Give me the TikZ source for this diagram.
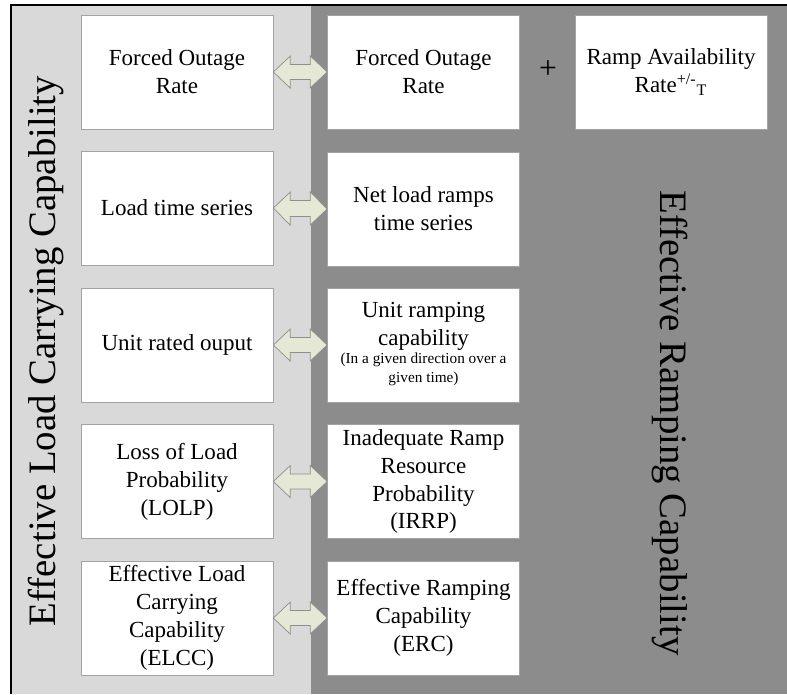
\documentclass[tikz,border=0pt]{standalone}
\usepackage{fontspec}
\setmainfont{Liberation Serif}
\usepackage{xcolor}
\usepackage{tikz}

\definecolor{lightpanel}{HTML}{D9D9D9}
\definecolor{darkpanel}{HTML}{8C8C8C}
\definecolor{boxline}{HTML}{A3A3A3}
\definecolor{arrowfill}{HTML}{E4E8D5}
\definecolor{arrowline}{HTML}{8E8E8E}

\begin{document}
\begin{tikzpicture}[x=0.02cm, y=-0.02cm,
  card/.style={draw=boxline, fill=white, minimum width=3.84cm, minimum height=2.28cm,
    align=center, inner sep=2pt, font=\fontsize{13.1}{15.9}\selectfont},
  twinarrow/.style={draw=arrowline, fill=arrowfill, line join=miter},
  sidetitle/.style={font=\fontsize{22.1}{26}\selectfont}]
  \useasboundingbox (0,0) rectangle (787,694);
  \fill[white] (0,0) rectangle (787,694);
  % the two panels
  \fill[lightpanel] (11,5) rectangle (311,694);
  \fill[darkpanel] (311,5) rectangle (787,694);
  \draw[line width=1.15pt] (11,694) -- (11,5) -- (787,5);
  \node[sidetitle, rotate=90] (elcc) at (46,351) {Effective Load Carrying Capability};
  \node[sidetitle, rotate=-90] (erc) at (670,423) {Effective Ramping Capability};
  % left column
  \node[card] (l1) at (177,72) {Forced Outage\\Rate};
  \node[card] (l2) at (177,208) {Load time series};
  \node[card] (l3) at (177,345) {Unit rated ouput};
  \node[card] (l4) at (177,481.5) {Loss of Load\\Probability\\(LOLP)};
  \node[card] (l5) at (177,618) {Effective Load\\Carrying\\Capability\\(ELCC)};
  % right column
  \node[card] (r1) at (423.5,72) {Forced Outage\\Rate};
  \node[card] (r2) at (423.5,209) {Net load ramps\\time series};
  \node[card] (r3) at (423.5,345) {Unit ramping\\capability\\
    {\fontsize{8.7}{10.5}\selectfont\begin{tabular}{@{}c@{}}(In a given direction over a\\given time)\end{tabular}}};
  \node[card] (r4) at (423.5,481.5) {Inadequate Ramp\\Resource\\Probability\\(IRRP)};
  \node[card] (r5) at (423.5,618) {Effective Ramping\\Capability\\(ERC)};
  \node[card] (ramp) at (671,72) {Ramp Availability\\Rate\textsuperscript{+/-}\textsubscript{T}};
  \node[font=\fontsize{18}{20}\selectfont] (plus) at (548,70) {+};
  % block arrows between the columns
  \foreach \r in {1,...,5}
    \draw[twinarrow] (l\r.east) -- ++(17,-16) -- ++(0,8.5) -- ++(20,0) -- ++(0,-8.5)
      -- (r\r.west) -- ++(-17,16) -- ++(0,-8.5) -- ++(-20,0) -- ++(0,8.5) -- cycle;
\end{tikzpicture}
\end{document}
